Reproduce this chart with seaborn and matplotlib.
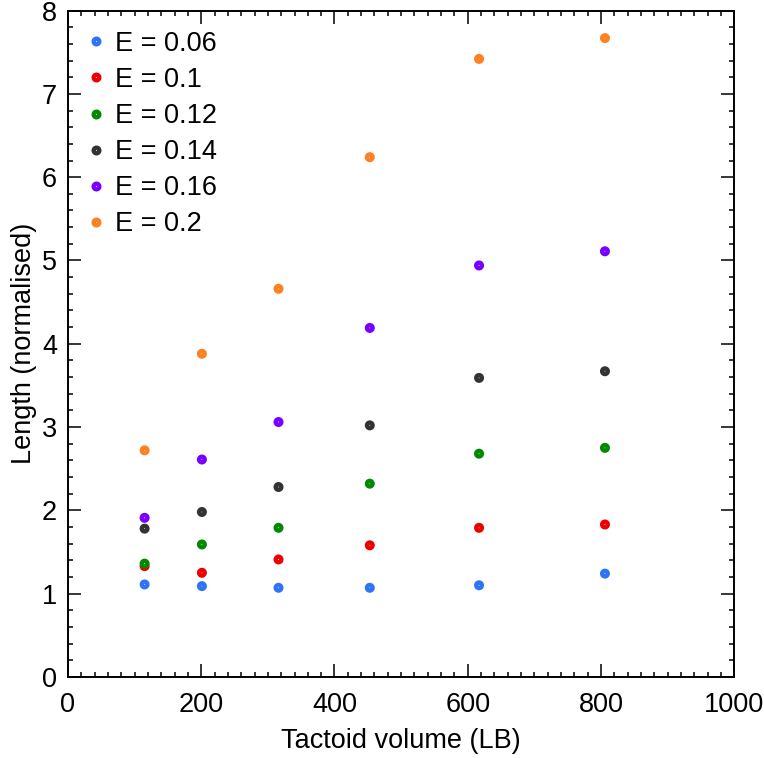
import pandas as pd
import matplotlib
matplotlib.use("Agg")
import matplotlib.pyplot as plt
from matplotlib.ticker import MultipleLocator
import seaborn as sns

# Data
volume = [115, 201, 316, 453, 617, 806]
e_labels = ["E = 0.06", "E = 0.1", "E = 0.12", "E = 0.14", "E = 0.16", "E = 0.2"]
len_e006 = [1.11, 1.09, 1.07, 1.07, 1.10, 1.24]
len_e010 = [1.33, 1.25, 1.41, 1.58, 1.79, 1.83]
len_e012 = [1.36, 1.59, 1.79, 2.32, 2.68, 2.75]
len_e014 = [1.78, 1.98, 2.28, 3.02, 3.59, 3.67]
len_e016 = [1.91, 2.61, 3.06, 4.19, 4.94, 5.11]
len_e020 = [2.72, 3.88, 4.66, 6.24, 7.42, 7.67]
colors = ["#2f74f6", "#ee0000", "#008a00", "#333333", "#7700ff", "#ff8020"]


def generate_graph():
    series = [len_e006, len_e010, len_e012, len_e014, len_e016, len_e020]
    rows = []
    for lab, vals in zip(e_labels, series):
        for v, l in zip(volume, vals):
            rows.append({"volume": v, "length": l, "E": lab})
    df = pd.DataFrame(rows)

    sns.set_style("ticks")
    plt.rcParams["font.family"] = ["Liberation Sans", "DejaVu Sans"]
    plt.rcParams["font.size"] = 19.5
    for k in ["text.color", "axes.labelcolor", "xtick.color", "ytick.color",
              "axes.edgecolor"]:
        plt.rcParams[k] = "black"

    fig = plt.figure(figsize=(7.64, 7.58), dpi=100)
    ax = fig.add_axes([0.089, 0.107, 0.872, 0.879])

    sns.scatterplot(data=df, x="volume", y="length", hue="E",
                    hue_order=e_labels, palette=dict(zip(e_labels, colors)),
                    s=16, ax=ax, legend=True)

    # hollow-centre look: coloured ring around a tiny white dot
    for coll in ax.collections:
        fc = coll.get_facecolors()
        coll.set_edgecolors(fc)
        coll.set_facecolors("white")
        coll.set_linewidths(3.2)

    ax.set_xlim(0, 1000)
    ax.set_ylim(0, 8)
    ax.xaxis.set_major_locator(MultipleLocator(200))
    ax.xaxis.set_minor_locator(MultipleLocator(20))
    ax.yaxis.set_major_locator(MultipleLocator(1))
    ax.yaxis.set_minor_locator(MultipleLocator(0.2))
    ax.tick_params(which="both", direction="in", top=True, right=True,
                   width=1.1, labelsize=19.5)
    ax.tick_params(axis="x", pad=11)
    ax.tick_params(axis="y", pad=8)
    ax.tick_params(which="major", length=9.5)
    ax.tick_params(which="minor", length=3.8)
    for sp in ax.spines.values():
        sp.set_linewidth(1.4)

    ax.set_xlabel("Tactoid volume (LB)", fontsize=19.5, labelpad=7)
    ax.set_ylabel("Length (normalised)", fontsize=19.5, labelpad=3)

    handles, labels = ax.get_legend_handles_labels()
    for h, c in zip(handles, colors):
        h.set_markerfacecolor("white")
        h.set_markeredgecolor(c)
        h.set_markeredgewidth(3.2)
        h.set_markersize(4.0)
    ax.legend(handles, labels, loc="upper left", bbox_to_anchor=(0.0, 0.9955),
              frameon=False, fontsize=19.5, handlelength=0.8,
              handletextpad=0.3, labelspacing=0.37, borderaxespad=0.0,
              borderpad=0.64)

    fig.savefig("out.png", dpi=100)


if __name__ == "__main__":
    generate_graph()
